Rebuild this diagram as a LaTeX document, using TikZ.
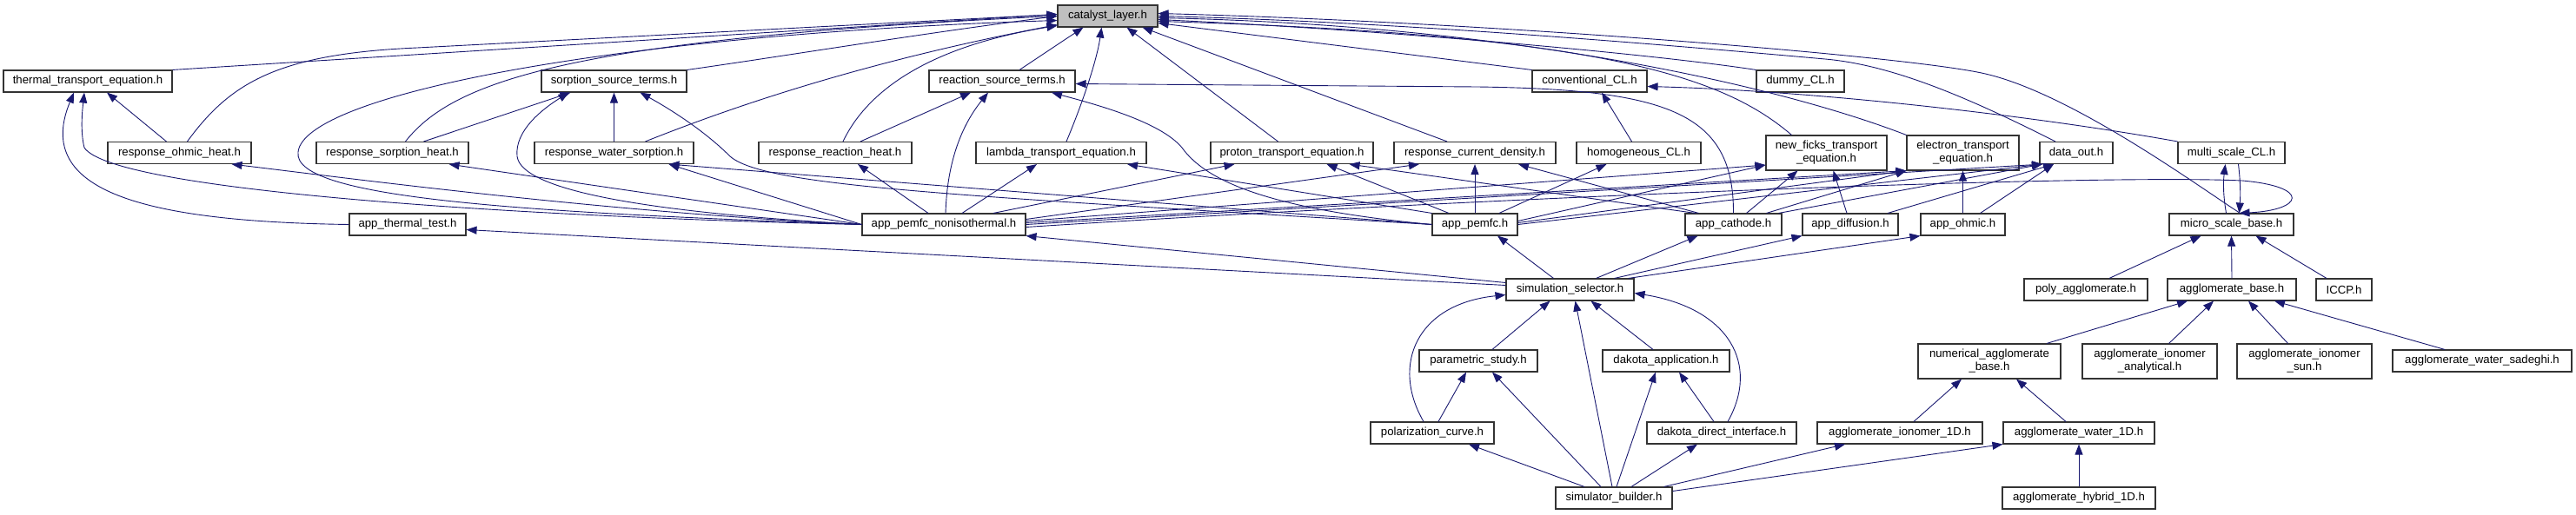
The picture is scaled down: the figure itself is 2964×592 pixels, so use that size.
\documentclass[tikz,border=0pt]{standalone}
\usepackage{fontspec}
\setmainfont{Liberation Sans}
\usepackage{tikz}
\usetikzlibrary{arrows.meta}
\definecolor{edgeblue}{HTML}{191970}
\definecolor{rootgray}{HTML}{BFBFBF}

\begin{document}
\begin{tikzpicture}[x=1pt, y=-1pt,
    hdr/.style={draw=black!80, line width=1.1pt, fill=white, inner sep=0pt,
      minimum height=25pt, align=center, font=\fontsize{13.2}{15}\selectfont},
    hdr2/.style={hdr, minimum height=40pt},
    inc/.style={draw=edgeblue, line width=0.9pt, -{Triangle[length=12pt,width=9pt]}}]

  \useasboundingbox (0,0) rectangle (2964,592);
  \fill[white] (0,0) rectangle (2964,592);

  % headers
  \node[hdr, fill=rootgray, minimum width=115pt] (cl) at (1274.5,18.5) {catalyst\_layer.h};

  \node[hdr, minimum width=194pt] (tte) at (101,93.5) {thermal\_transport\_equation.h};
  \node[hdr, minimum width=167pt] (sst) at (706.5,93.5) {sorption\_source\_terms.h};
  \node[hdr, minimum width=168pt] (rst) at (1153,93.5) {reaction\_source\_terms.h};
  \node[hdr, minimum width=132pt] (ccl) at (1829,93.5) {conventional\_CL.h};
  \node[hdr, minimum width=101pt] (dcl) at (2071.5,93.5) {dummy\_CL.h};

  \node[hdr, minimum width=165pt] (rohm) at (206.5,176) {response\_ohmic\_heat.h};
  \node[hdr, minimum width=175pt] (rsorh) at (451.5,176) {response\_sorption\_heat.h};
  \node[hdr, minimum width=183pt] (rws) at (706.5,176) {response\_water\_sorption.h};
  \node[hdr, minimum width=176pt] (rrh) at (961,176) {response\_reaction\_heat.h};
  \node[hdr, minimum width=196pt] (lte) at (1221,176) {lambda\_transport\_equation.h};
  \node[hdr, minimum width=187pt] (pte) at (1486.5,176) {proton\_transport\_equation.h};
  \node[hdr, minimum width=186pt] (rcd) at (1697,176) {response\_current\_density.h};
  \node[hdr, minimum width=143pt] (hcl) at (1885.5,176) {homogeneous\_CL.h};
  \node[hdr2, minimum width=139pt] (nft) at (2101.5,176) {new\_ficks\_transport\\\_equation.h};
  \node[hdr2, minimum width=129pt] (ete) at (2258.5,176) {electron\_transport\\\_equation.h};
  \node[hdr, minimum width=84pt] (dout) at (2389,176) {data\_out.h};
  \node[hdr, minimum width=123pt] (mscl) at (2567.5,176) {multi\_scale\_CL.h};

  \node[hdr, minimum width=134pt] (att) at (469,258.5) {app\_thermal\_test.h};
  \node[hdr, minimum width=188pt] (apni) at (1086,258.5) {app\_pemfc\_nonisothermal.h};
  \node[hdr, minimum width=98pt] (ap) at (1697,258.5) {app\_pemfc.h};
  \node[hdr, minimum width=111pt] (ac) at (1994.5,258.5) {app\_cathode.h};
  \node[hdr, minimum width=110pt] (ad) at (2129,258.5) {app\_diffusion.h};
  \node[hdr, minimum width=97pt] (ao) at (2258.5,258.5) {app\_ohmic.h};
  \node[hdr, minimum width=143pt] (msb) at (2567.5,258.5) {micro\_scale\_base.h};

  \node[hdr, minimum width=147pt] (ss) at (1806.5,333.5) {simulation\_selector.h};
  \node[hdr, minimum width=142pt] (pa) at (2400,333.5) {poly\_agglomerate.h};
  \node[hdr, minimum width=148pt] (ab) at (2568,333.5) {agglomerate\_base.h};
  \node[hdr, minimum width=64pt] (iccp) at (2697,333.5) {ICCP.h};

  \node[hdr, minimum width=136pt] (ps) at (1701,415.5) {parametric\_study.h};
  \node[hdr, minimum width=146pt] (da) at (1917,415.5) {dakota\_application.h};
  \node[hdr2, minimum width=164pt] (nab) at (2289,416) {numerical\_agglomerate\\\_base.h};
  \node[hdr2, minimum width=155pt] (aia) at (2473.5,416) {agglomerate\_ionomer\\\_analytical.h};
  \node[hdr2, minimum width=155pt] (ais) at (2651.5,416) {agglomerate\_ionomer\\\_sun.h};
  \node[hdr, minimum width=206pt] (aws) at (2856,415.5) {agglomerate\_water\_sadeghi.h};

  \node[hdr, minimum width=142pt] (pc) at (1648,498.5) {polarization\_curve.h};
  \node[hdr, minimum width=172pt] (ddi) at (1981,498.5) {dakota\_direct\_interface.h};
  \node[hdr, minimum width=190pt] (ai1) at (2186,498.5) {agglomerate\_ionomer\_1D.h};
  \node[hdr, minimum width=174pt] (aw1) at (2392,498.5) {agglomerate\_water\_1D.h};

  \node[hdr, minimum width=134pt] (sb) at (1857,573.5) {simulator\_builder.h};
  \node[hdr, minimum width=176pt] (ah1) at (2392,573.5) {agglomerate\_hybrid\_1D.h};

  % into catalyst_layer.h
  \draw[inc] (tte.north east) -- ([yshift=2]cl.west);
  \draw[inc] ([xshift=9]rohm.north) .. controls (265,95) and (320,62) .. (480,55) -- ([yshift=2]cl.west);
  \draw[inc] (apni.west) .. controls (620,245) and (335,230) .. (343,175) .. controls (350,110) and (700,40) .. ([yshift=-5]cl.west);
  \draw[inc] ([xshift=15]rsorh.north) .. controls (520,95) and (650,45) .. (cl.west);
  \draw[inc] (sst.north east) .. controls (900,65) and (1050,40) .. (cl.west);
  \draw[inc] ([xshift=36]rws.north) .. controls (850,120) and (1000,70) .. ([yshift=-10]cl.west);
  \draw[inc] ([xshift=9]rrh.north) .. controls (995,110) and (1060,55) .. ([yshift=-11]cl.west);
  \draw[inc] ([xshift=20]rst.north) -- ([xshift=-28]cl.south);
  \draw[inc] ([xshift=6]lte.north) .. controls (1245,120) and (1262,70) .. ([xshift=-7]cl.south);
  \draw[inc] ([xshift=-16]pte.north) -- ([xshift=22]cl.south);
  \draw[inc] ([xshift=-32]rcd.north) -- ([xshift=40]cl.south);
  \draw[inc] (ccl.north west) -- ([yshift=-8]cl.east);
  \draw[inc] (dcl.north west) .. controls (1900,62) and (1600,35) .. ([yshift=-4]cl.east);
  \draw[inc] ([xshift=-40]nft.north) .. controls (1985,90) and (1850,40) .. ([yshift=-6]cl.east);
  \draw[inc] (ete.north west) .. controls (2050,100) and (1750,30) .. ([yshift=-2]cl.east);
  \draw[inc] ([xshift=-24]dout.north) .. controls (2270,115) and (2180,75) .. (2100,68) .. controls (1900,50) and (1600,25) .. (cl.east);
  \draw[inc] ([xshift=10]msb.north) .. controls (2530,215) and (2380,105) .. (2280,84) .. controls (2180,63) and (1700,25) .. ([yshift=3]cl.east);

  % thermal side
  \draw[inc] (att.west) .. controls (150,255) and (40,215) .. ([xshift=-16]tte.south);
  \draw[inc] (apni.west) .. controls (600,250) and (130,220) .. (97,170) .. controls (92,150) and (95,125) .. ([xshift=-4]tte.south);
  \draw[inc] ([xshift=-15]rohm.north) -- ([xshift=22]tte.south);
  \draw[inc] (apni.west) .. controls (700,245) and (400,205) .. ([xshift=60]rohm.south);
  \draw[inc] (apni.west) -- ([xshift=65]rsorh.south);

  % sorption / reaction sources
  \draw[inc] ([xshift=36]rsorh.north) -- ([xshift=-50]sst.south);
  \draw[inc] (apni.west) .. controls (750,245) and (600,220) .. (595,180) .. controls (592,150) and (625,125) .. ([xshift=-52]sst.south);
  \draw[inc] (rws.north) -- (sst.south);
  \draw[inc] (ap.west) .. controls (1100,225) and (880,215) .. (840,180) .. controls (810,150) and (770,125) .. ([xshift=30]sst.south);
  \draw[inc] (apni.west) -- ([xshift=63]rws.south);
  \draw[inc] (ap.west) -- ([xshift=63]rws.south);
  \draw[inc] ([xshift=29]rrh.north) -- ([xshift=-36]rst.south);
  \draw[inc] ([xshift=2]apni.north) .. controls (1090,180) and (1110,140) .. ([xshift=-16]rst.south);
  \draw[inc] (ap.west) .. controls (1450,240) and (1385,205) .. (1360,170) .. controls (1335,140) and (1260,120) .. ([xshift=57]rst.south);
  \draw[inc] (ac.north) .. controls (1995,130) and (1920,103) .. (1700,100) -- ([yshift=-3]rst.east);
  \draw[inc] ([xshift=-18]apni.north) -- ([xshift=26]rrh.south);

  % transport equations
  \draw[inc] ([xshift=21]apni.north) -- ([xshift=-28]lte.south);
  \draw[inc] (ap.north west) -- ([xshift=76]lte.south);
  \draw[inc] ([xshift=57]apni.north) -- ([xshift=-66]pte.south);
  \draw[inc] ([xshift=-30]ap.north) -- ([xshift=40]pte.south);
  \draw[inc] ([xshift=-44]ac.north) -- ([xshift=66]pte.south);
  \draw[inc] ([yshift=6]apni.east) -- ([xshift=-64]rcd.south);
  \draw[inc] (ap.north) -- (rcd.south);
  \draw[inc] ([xshift=-40]ac.north) -- ([xshift=50]rcd.south);
  \draw[inc] ([xshift=-8]hcl.north) -- ([xshift=14]ccl.south);
  \draw[inc] (mscl.north west) .. controls (2350,135) and (2100,105) .. ([yshift=-6]ccl.east);
  \draw[inc] ([xshift=28]ap.north) -- ([xshift=-37]hcl.south);
  \draw[inc] ([yshift=4]apni.east) -- ([yshift=-14]nft.west);
  \draw[inc] ([yshift=4]ap.east) -- ([yshift=-14]nft.west);
  \draw[inc] ([xshift=15]ac.north) -- ([xshift=-33]nft.south);
  \draw[inc] ([xshift=-4]ad.north) -- ([xshift=8]nft.south);
  \draw[inc] ([yshift=2]apni.east) -- (ete.south west);
  \draw[inc] ([yshift=2]ap.east) -- (ete.south west);
  \draw[inc] ([xshift=38]ac.north) -- (ete.south west);
  \draw[inc] (ao.north) -- (ete.south);
  \draw[inc] (apni.east) -- ([xshift=-39]dout.south);
  \draw[inc] (ap.east) -- ([xshift=-39]dout.south);
  \draw[inc] ([xshift=-4]ac.north east) -- ([xshift=-39]dout.south);
  \draw[inc] ([xshift=43]ad.north) -- ([xshift=-26]dout.south);
  \draw[inc] ([xshift=20]ao.north) -- ([xshift=-26]dout.south);

  % multi scale
  \draw[inc] ([xshift=-6]msb.north) .. controls (2558,225) and (2558,210) .. ([xshift=-7]mscl.south);
  \draw[inc] ([xshift=8]mscl.south) .. controls (2578,210) and (2578,225) .. ([xshift=9]msb.north);
  \draw[inc] ([yshift=-3]apni.east) .. controls (1700,228) and (2400,200) .. (2580,208) .. controls (2660,215) and (2650,242) .. ([xshift=9]msb.north);

  % simulation_selector.h
  \draw[inc] ([yshift=8]ss.west) -- (apni.south east);
  \draw[inc] ([yshift=5]ss.west) -- ([yshift=-6]att.east);
  \draw[inc] ([xshift=-19]ss.north) -- ([xshift=26]ap.south);
  \draw[inc] ([xshift=30]ss.north) -- ([xshift=-41]ac.south);
  \draw[inc] ([xshift=-23]ss.north east) -- (ad.south west);
  \draw[inc] ([xshift=-7]ss.north east) -- (ao.south west);
  \draw[inc] ([xshift=-10]pc.north) .. controls (1600,420) and (1630,350) .. ([yshift=-6]ss.west);
  \draw[inc] ([xshift=16]ps.north) -- ([xshift=-23]ss.south);
  \draw[inc] ([xshift=-2]sb.north) -- ([xshift=6]ss.south);
  \draw[inc] ([xshift=-15]da.north) -- ([xshift=24]ss.south);
  \draw[inc] ([xshift=7]ddi.north) .. controls (2025,420) and (1990,355) .. ([yshift=-4]ss.east);

  % builders
  \draw[inc] ([xshift=7]pc.north) -- ([xshift=-14]ps.south);
  \draw[inc] ([xshift=-15]sb.north) -- ([xshift=16]ps.south);
  \draw[inc] ([xshift=3]sb.north) -- ([xshift=-12]da.south);
  \draw[inc] ([xshift=-9]ddi.north) -- ([xshift=15]da.south);
  \draw[inc] ([xshift=-34]sb.north) -- ([xshift=42]pc.south);
  \draw[inc] ([xshift=20]sb.north) -- ([xshift=-28]ddi.south);
  \draw[inc] ([xshift=-10]sb.north east) -- ([xshift=-63]ai1.south);
  \draw[inc] ([yshift=8]sb.east) -- (aw1.south west);

  % agglomerates
  \draw[inc] ([xshift=16]ai1.north) -- ([xshift=-32]nab.south);
  \draw[inc] ([xshift=-15]aw1.north) -- ([xshift=31]nab.south);
  \draw[inc] (ah1.north) -- (aw1.south);
  \draw[inc] ([xshift=66]nab.north) -- ([xshift=-51]ab.south);
  \draw[inc] ([xshift=22]aia.north) -- ([xshift=-21]ab.south);
  \draw[inc] ([xshift=-19]ais.north) -- ([xshift=19]ab.south);
  \draw[inc] ([xshift=-43]aws.north) -- ([xshift=49]ab.south);
  \draw[inc] ([xshift=27]pa.north) -- ([xshift=-35]msb.south);
  \draw[inc] (ab.north) -- (msb.south);
  \draw[inc] ([xshift=-20]iccp.north) -- ([xshift=28]msb.south);
\end{tikzpicture}
\end{document}
